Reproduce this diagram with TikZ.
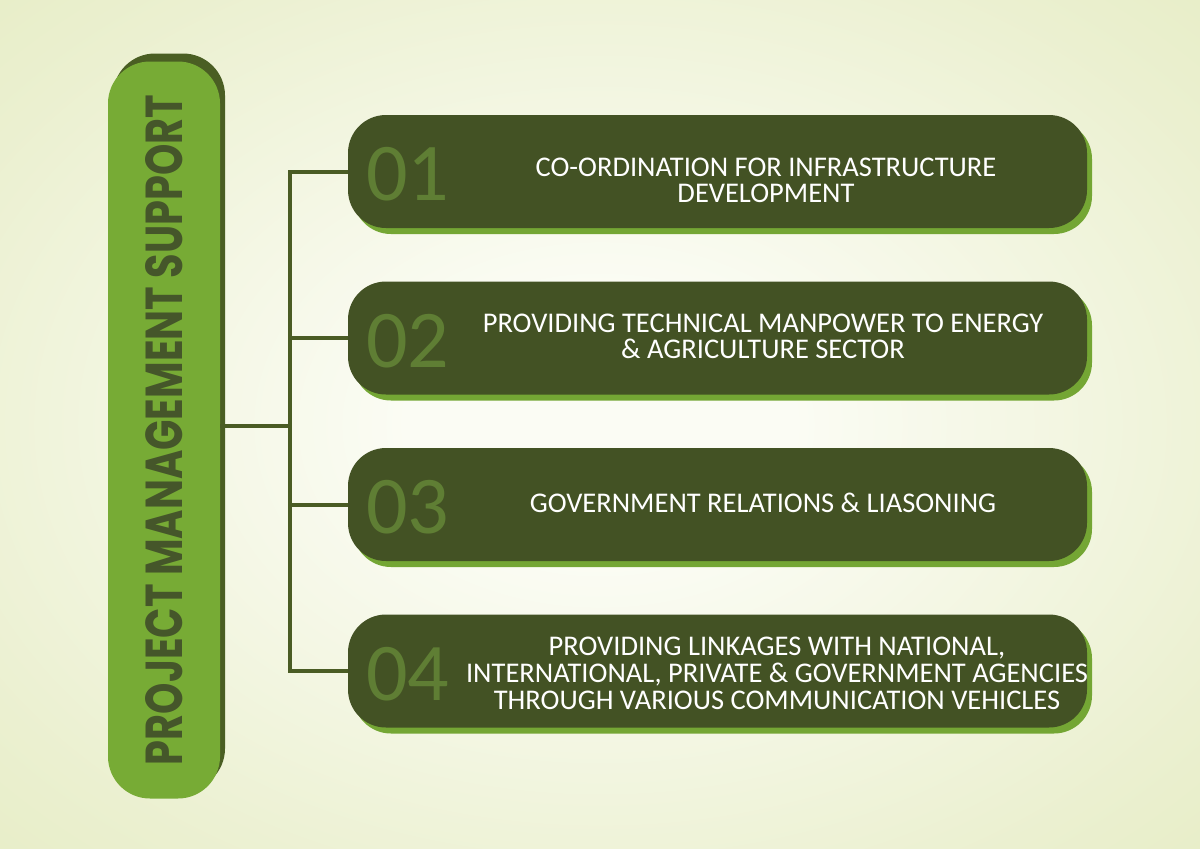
\documentclass[tikz,border=0pt]{standalone}
\usepackage{fontspec}
\setmainfont{Carlito}
\newfontfamily\pillfont{Poppins}
\definecolor{bgin}{HTML}{FBFCF4}
\definecolor{bgmid}{HTML}{EBF0D0}
\definecolor{bgout}{HTML}{DDE6AF}
\definecolor{boxdark}{HTML}{435224}
\definecolor{boxshadow}{HTML}{74A634}
\definecolor{pillgreen}{HTML}{77AB35}
\definecolor{pillshadow}{HTML}{4A5E23}
\definecolor{pilltext}{HTML}{45562A}
\definecolor{numcol}{HTML}{5F7E34}
\definecolor{linecol}{HTML}{4A5C24}
\pgfdeclareradialshading{bgshade}{\pgfpoint{0bp}{0bp}}{color(0bp)=(bgin); color(8bp)=(bgin); color(30bp)=(bgmid); color(55bp)=(bgout); color(80bp)=(bgout)}
\begin{document}
\begin{tikzpicture}[x=1pt,y=-1pt,
  pillshape/.style={rectangle, rounded corners=42pt, minimum width=737pt, minimum height=112pt, inner sep=0pt, rotate=90},
  boxshape/.style={rectangle, rounded corners=38pt, minimum width=739pt, minimum height=113pt, inner sep=0pt},
  numtext/.style={anchor=west, inner sep=0pt, text=numcol, font=\fontsize{82}{82}\selectfont},
  itemtext/.style={align=center, inner sep=0pt, text=white, font=\fontsize{28.5}{27}\selectfont},
  conn/.style={draw=linecol, line width=4pt}]
\useasboundingbox (0,0) rectangle (1200,849);
\shade[shading=bgshade] (0,0) rectangle (1200,849);
\coordinate (bus) at (290,426);
% pill
\node[pillshape, fill=pillshadow] (pillsh) at (169,422) {};
\node[pillshape, fill=pillgreen, text=pilltext, font=\pillfont\bfseries\fontsize{50}{50}\selectfont] (pill) at (164,430) {\resizebox{670pt}{37pt}{PROJECT MANAGEMENT SUPPORT}};
% boxes
\foreach \i/\y in {1/171.5, 2/338, 3/504.5, 4/671}{
  \node[boxshape, fill=boxshadow] (sh\i) at (722.5,\y+6) {};
  \node[boxshape, fill=boxdark] (box\i) at (717.5,\y) {};
  \node[numtext] (num\i) at (366,\y+3) {0\i};
}
\draw[conn] (pill.south |- bus) -- (bus);
\draw[conn] (box1.west) -- (box1.west -| bus) -- (box4.west -| bus) -- (box4.west);
\draw[conn] (box2.west) -- (box2.west -| bus);
\draw[conn] (box3.west) -- (box3.west -| bus);
\node[itemtext, font=\fontsize{28.5}{26}\selectfont] (t1) at (766,180) {CO-ORDINATION FOR INFRASTRUCTURE\\DEVELOPMENT};
\node[itemtext, font=\fontsize{28.5}{26}\selectfont] (t2) at (763,336) {PROVIDING TECHNICAL MANPOWER TO ENERGY\\\& AGRICULTURE SECTOR};
\node[itemtext] (t3) at (763,503) {GOVERNMENT RELATIONS \& LIASONING};
\node[itemtext] (t4) at (777,673) {PROVIDING LINKAGES WITH NATIONAL,\\INTERNATIONAL, PRIVATE \& GOVERNMENT AGENCIES\\THROUGH VARIOUS COMMUNICATION VEHICLES};
\end{tikzpicture}
\end{document}
